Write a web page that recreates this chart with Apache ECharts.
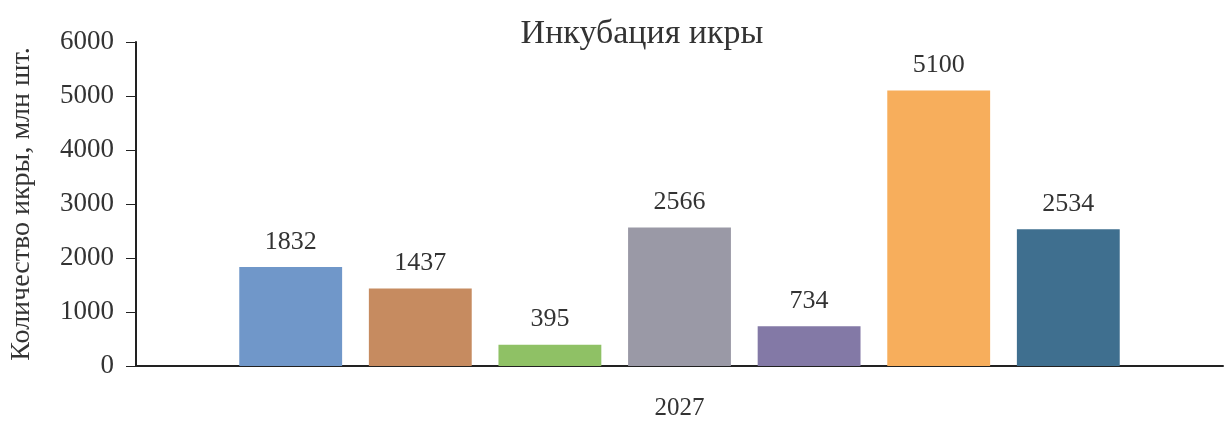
<!DOCTYPE html>
<html><head><meta charset="utf-8">
<script src="https://cdn.jsdelivr.net/npm/echarts@6/dist/echarts.min.js"></script>
<style>html,body{margin:0;padding:0;background:#fff}#c{width:1225px;height:427px}</style>
</head><body><div id="c"></div>
<script>
const categories = ['2027'];
const values = [1832, 1437, 395, 2566, 734, 5100, 2534];
const colors = ['#7097c9', '#c68b60', '#8fc165', '#9a99a6', '#8379a6', '#f7ae5c', '#3f6f8f'];
const yTicks = [0, 1000, 2000, 3000, 4000, 5000, 6000];
const font = 'Liberation Serif';
const chart = echarts.init(document.getElementById('c'));
chart.setOption({
  animation: false,
  backgroundColor: '#fff',
  title: { text: 'Инкубация икры', left: 637, top: 12, textAlign: 'center',
    textStyle: { fontFamily: font, fontSize: 34, fontWeight: 'normal', color: '#333' } },
  grid: { left: 131, right: 2, top: 42, bottom: 61 },
  xAxis: { type: 'category', data: categories,
    axisLine: { lineStyle: { color: '#222', width: 2 } }, axisTick: { show: false },
    axisLabel: { fontFamily: font, fontSize: 25, color: '#333', margin: 30 } },
  yAxis: { type: 'value', min: yTicks[0], max: yTicks[yTicks.length - 1], interval: 1000,
    name: 'Количество икры, млн шт.', nameLocation: 'middle', nameGap: 100, nameRotate: 90,
    nameTextStyle: { fontFamily: font, fontSize: 28, color: '#333' },
    axisLine: { show: true, lineStyle: { color: '#222', width: 2 } },
    axisTick: { show: true, length: 10, lineStyle: { color: '#222' } },
    splitLine: { show: false },
    axisLabel: { fontFamily: font, fontSize: 27, color: '#333', margin: 22,
      formatter: v => String(v) } },
  series: values.map((v, i) => ({
    type: 'bar', data: [v], barGap: '26%', barCategoryGap: '19%',
    itemStyle: { color: colors[i] },
    label: { show: true, position: 'top', distance: 12, fontFamily: font, fontSize: 26, color: '#333' }
  }))
});
</script></body></html>
